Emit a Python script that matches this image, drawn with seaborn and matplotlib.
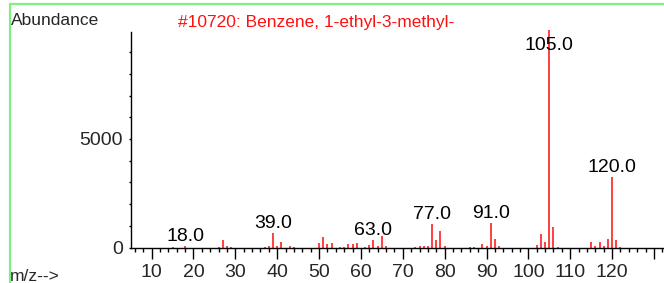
import matplotlib
matplotlib.use("Agg")
import matplotlib.pyplot as plt
import seaborn as sns
from matplotlib.ticker import MultipleLocator, FixedLocator
from matplotlib.lines import Line2D

# peak list (m/z, abundance)
mz = [15, 18, 26, 27, 28, 29, 37, 38, 39, 40, 41, 43, 44, 50, 51, 52, 53, 55,
      56, 57, 58, 59, 61, 62, 63, 64, 65, 66, 73, 74, 75, 76, 77, 78, 79, 80,
      86, 87, 89, 90, 91, 92, 93, 102, 103, 104, 105, 106, 107, 115, 116, 117,
      118, 119, 120, 121, 122]
abundance = [40, 60, 50, 355, 60, 50, 40, 80, 660, 60, 275, 90, 40, 200, 505,
             170, 230, 40, 50, 150, 170, 230, 40, 125, 355, 90, 540, 60, 40, 60,
             60, 60, 1075, 355, 770, 60, 40, 50, 170, 60, 1120, 385, 60, 125,
             615, 275, 9999, 940, 50, 250, 80, 260, 80, 400, 3240, 355, 40]
labelled = [18, 39, 63, 77, 91, 105, 120]

title = "#10720: Benzene, 1-ethyl-3-methyl-"
x_ticks = [10, 20, 30, 40, 50, 60, 70, 80, 90, 100, 110, 120, 130]
x_tick_labels = ["10", "20", "30", "40", "50", "60", "70", "80", "90", "100",
                 "110", "120", ""]

sns.set_theme(style="ticks")
plt.rcParams["font.family"] = ["Liberation Sans", "DejaVu Sans"]

fig = plt.figure(figsize=(6.64, 2.83), dpi=100)
ax = fig.add_axes([130.7 / 664, 1 - 247.7 / 283, 1 - 130.7 / 664, (247.7 - 31.7) / 283])

ax.vlines(mz, 0, abundance, colors="#ff3030", linewidth=1.3, clip_on=False)

label_cap = 8850
for m, a in zip(mz, abundance):
    if m in labelled:
        ax.annotate(f"{m:.1f}", (m, min(a, label_cap)), xytext=(0, 3.6),
                    textcoords="offset points", ha="center", va="baseline",
                    fontsize=14, color="black")

ax.set_xlim(5, 132.4)
ax.set_ylim(0, 9935)
ax.xaxis.set_major_locator(FixedLocator(x_ticks))
ax.set_xticklabels(x_tick_labels)
ax.xaxis.set_minor_locator(MultipleLocator(2))
ax.yaxis.set_major_locator(FixedLocator([0, 5000]))
ax.yaxis.set_minor_locator(MultipleLocator(1000))

ax.tick_params(axis="x", which="major", length=7.7, width=1, labelsize=14, pad=4, color="black")
ax.tick_params(axis="x", which="minor", length=2.9, width=1, color="black")
ax.tick_params(axis="y", which="both", length=1.8, width=1, labelsize=14, pad=4, color="black")

sns.despine(ax=ax, top=True, right=True)
for side in ["left", "bottom"]:
    ax.spines[side].set_color("black")
    ax.spines[side].set_linewidth(1)
ax.patch.set_alpha(0)

fig.text(11 / 664, 1 - 25 / 283, "Abundance", fontsize=12.5, ha="left", va="baseline")
fig.text(178 / 664, 1 - 27 / 283, title, fontsize=12.5, color="#ff1010", ha="left", va="baseline")
fig.text(10 / 664, 1 - 281 / 283, "m/z-->", fontsize=12.5, ha="left", va="baseline")

# light green frame at top and left of the window
green = "#80ee80"
fig.add_artist(Line2D([9.5 / 664, 1], [1 - 4 / 283, 1 - 4 / 283], color=green, linewidth=1.6,
                      transform=fig.transFigure))
fig.add_artist(Line2D([9.5 / 664, 9.5 / 664], [0, 1 - 4 / 283], color=green, linewidth=1.6,
                      transform=fig.transFigure))

fig.savefig("out.png", dpi=100)
